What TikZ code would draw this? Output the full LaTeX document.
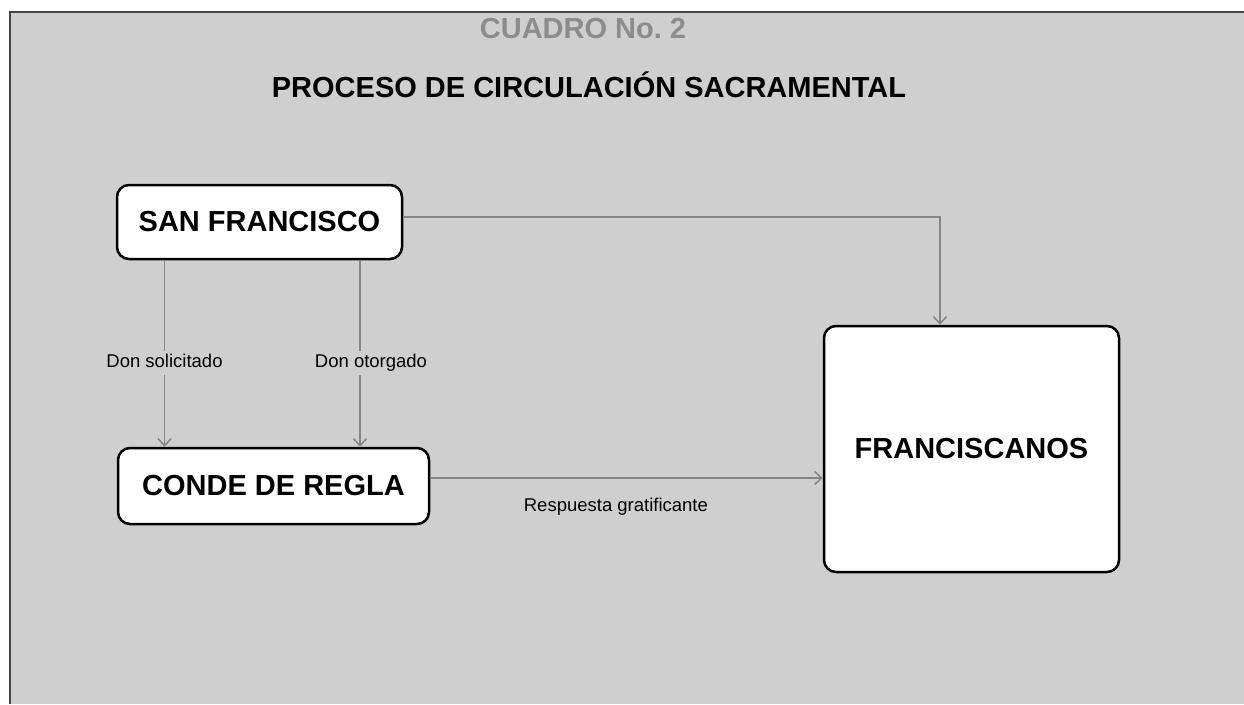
\documentclass[tikz,border=0pt]{standalone}
\usepackage{fontspec}
\setmainfont{Liberation Sans}
\usetikzlibrary{arrows.meta}
\definecolor{bggray}{gray}{0.81}
\definecolor{edgegray}{gray}{0.52}
\definecolor{titlegray}{gray}{0.55}
\tikzset{>={Straight Barb[length=7pt,width=13pt]}}
\tikzset{
  actor/.style={draw, line width=2.5pt, rounded corners=12pt, fill=white, inner sep=0pt,
    font=\bfseries\fontsize{29}{34}\selectfont},
  flow/.style={->, draw=edgegray, line width=1.5pt},
  flowlabel/.style={fill=bggray, inner sep=3pt, text height=13.5pt, text depth=4pt,
    font=\fontsize{18.5}{22}\selectfont}
}

\begin{document}
\begin{tikzpicture}[x=1pt,y=-1pt]
\useasboundingbox (0,0) rectangle (1244,704);
\fill[bggray] (10,12) rectangle (1244,704);
\draw[gray!55!black, line width=2pt] (10,704) -- (10,12) -- (1244,12);
\node[text=titlegray, font=\bfseries\fontsize{29}{34}\selectfont] (cuadro) at (583,29) {CUADRO No.\ 2};
\node[font=\bfseries\fontsize{29}{34}\selectfont] (titulo) at (589,85) {PROCESO DE CIRCULACIÓN SACRAMENTAL};
\node[actor, minimum width=285pt, minimum height=74pt] (sf) at (259.5,222) {SAN FRANCISCO};
\node[actor, minimum width=311pt, minimum height=76pt] (cd) at (273.5,486) {CONDE DE REGLA};
\node[actor, minimum width=295pt, minimum height=246pt] (fr) at (971.5,449) {FRANCISCANOS};
\draw[flow] ([xshift=-95pt]sf.south) -- ([xshift=-95pt]sf.south |- cd.north)
  node[flowlabel, pos=0.55] (solicitado) {Don solicitado};
\draw[flow] ([xshift=100.5pt]sf.south) -- ([xshift=100.5pt]sf.south |- cd.north)
  node[flowlabel, pos=0.55, xshift=11pt] (otorgado) {Don otorgado};
\draw[flow] ([yshift=5pt]sf.east) -| ([xshift=-31.5pt]fr.north);
\draw[flow] ([yshift=8pt]cd.east) -- ([yshift=8pt]cd.east -| fr.west)
  node[flowlabel, pos=0.473, below=16pt] (respuesta) {Respuesta gratificante};
\end{tikzpicture}
\end{document}
